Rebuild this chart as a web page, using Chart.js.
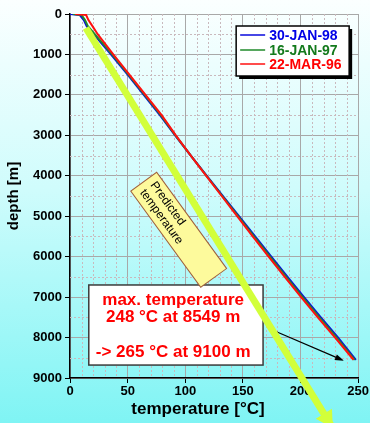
<!DOCTYPE html>
<html><head><meta charset="utf-8">
<script src="https://cdn.jsdelivr.net/npm/chart.js@4"></script>
<style>html,body{margin:0;padding:0;width:370px;height:423px;overflow:hidden;background:#fff}
canvas{display:block}</style>
</head><body>
<canvas id="c" width="370" height="423"></canvas>
<script>
// ---------- data ----------
const depth_m = [0, 25, 150, 300, 500, 1000, 1500, 2000, 2500, 3000, 3500, 4000, 4500, 5000, 5500, 6000, 6500, 7000, 7500, 8000, 8549];
const temp_30JAN98 = [0, 8.5, 12, 14.5, 20.5, 35.5, 50, 64, 78, 91.2, 104.8, 118.7, 132.7, 146.6, 160.6, 174.6, 188.7, 203, 217.6, 232.6, 248];
const temp_16JAN97 = [2.5, 10, 13, 15.5, 21.5, 36.5, 50.8, 64.8, 78.8, 91.5, 104.8, 118.4, 132.1, 145.8, 159.6, 173.5, 187.5, 201.8, 216.3, 231.3, 247];
const temp_22MAR96 = [4.5, 14, 16, 19.5, 24, 37.5, 51.5, 65.5, 79.5, 91.8, 104.8, 118.2, 131.6, 145, 158.5, 172.3, 186.3, 200.5, 215, 230, 246];
const seriesLabels = ['30-JAN-98', '16-JAN-97', '22-MAR-96'];
const predicted_T = [13.8, 228];
const predicted_depth = [346, 10240];
const xTicks = [0, 50, 100, 150, 200, 250];
const yTicks = [0, 1000, 2000, 3000, 4000, 5000, 6000, 7000, 8000, 9000];
const noteLines = ['max. temperature', '248 °C at 8549 m', '', '-> 265 °C at 9100 m'];
const predictedLabel = ['Predicted', 'temperature'];

const colors = ['#0a0adc', '#1f8a2a', '#ff1010'];
const textColors = ['#0000e6', '#137a1c', '#ff0000'];
const FONT = "'Liberation Sans', Arial, sans-serif";

function pts(t, d) { return t.map((v, i) => ({ x: v, y: d[i] })); }

const bgPlugin = {
  id: 'bg',
  beforeDraw(chart) {
    const ctx = chart.ctx;
    const g = ctx.createLinearGradient(0, 0, 0, chart.height);
    g.addColorStop(0, '#fbffff');
    g.addColorStop(0.45, '#cffcfc');
    g.addColorStop(1, '#7ff4f4');
    ctx.save(); ctx.fillStyle = g; ctx.fillRect(0, 0, chart.width, chart.height); ctx.restore();
  }
};

function arrow(ctx, x1, y1, x2, y2, len, wid, color, lw) {
  const a = Math.atan2(y2 - y1, x2 - x1);
  ctx.save();
  ctx.strokeStyle = color; ctx.fillStyle = color; ctx.lineWidth = lw;
  ctx.beginPath(); ctx.moveTo(x1, y1);
  ctx.lineTo(x2 - Math.cos(a) * len * 0.8, y2 - Math.sin(a) * len * 0.8); ctx.stroke();
  ctx.beginPath();
  ctx.moveTo(x2, y2);
  ctx.lineTo(x2 - Math.cos(a) * len + Math.sin(a) * wid / 2, y2 - Math.sin(a) * len - Math.cos(a) * wid / 2);
  ctx.lineTo(x2 - Math.cos(a) * len - Math.sin(a) * wid / 2, y2 - Math.sin(a) * len + Math.cos(a) * wid / 2);
  ctx.closePath(); ctx.fill();
  ctx.restore();
}

const decoPlugin = {
  id: 'deco',
  beforeDatasetsDraw(chart) {
    const { ctx, chartArea: ca } = chart;
    const xs = chart.scales.x, ys = chart.scales.y;
    // minor grid
    ctx.save();
    ctx.strokeStyle = '#c9b9bd'; ctx.lineWidth = 1; ctx.setLineDash([2, 2]);
    for (let t = 10; t < 250; t += 10) {
      if (t % 50 === 0) continue;
      const px = Math.round(xs.getPixelForValue(t)) + 0.5;
      ctx.beginPath(); ctx.moveTo(px, ca.top); ctx.lineTo(px, ca.bottom); ctx.stroke();
    }
    for (let d = 500; d < 9000; d += 1000) {
      const py = Math.round(ys.getPixelForValue(d)) + 0.5;
      ctx.beginPath(); ctx.moveTo(ca.left, py); ctx.lineTo(ca.right, py); ctx.stroke();
    }
    ctx.restore();
    // note box
    const bx1 = xs.getPixelForValue(16.3), by1 = ys.getPixelForValue(6700);
    const bx2 = xs.getPixelForValue(167.5), by2 = ys.getPixelForValue(8680);
    ctx.save();
    ctx.fillStyle = '#ffffff'; ctx.strokeStyle = '#3a3a3a'; ctx.lineWidth = 1.5;
    ctx.fillRect(bx1, by1, bx2 - bx1, by2 - by1);
    ctx.strokeRect(bx1, by1, bx2 - bx1, by2 - by1);
    ctx.fillStyle = '#ff0000'; ctx.font = 'bold 17px ' + FONT;
    ctx.textAlign = 'center'; ctx.textBaseline = 'middle';
    const cx = xs.getPixelForValue(89.5);
    const lineY = [by1 + 15, by1 + 32, by1 + 49, by1 + 67];
    noteLines.forEach((s, i) => { if (s) ctx.fillText(s, cx, lineY[i]); });
    ctx.restore();
    // black arrow
    arrow(ctx, xs.getPixelForValue(177.6), ys.getPixelForValue(7839),
      xs.getPixelForValue(237.7), ys.getPixelForValue(8573), 9, 6, '#000', 1.2);
  },
  afterDatasetsDraw(chart) {
    const { ctx, chartArea: ca } = chart;
    const xs = chart.scales.x, ys = chart.scales.y;
    // predicted arrowhead
    const x1 = xs.getPixelForValue(predicted_T[0]), y1 = ys.getPixelForValue(predicted_depth[0]);
    const x2 = xs.getPixelForValue(predicted_T[1]), y2 = ys.getPixelForValue(predicted_depth[1]);
    const a = Math.atan2(y2 - y1, x2 - x1);
    const len = 17, wid = 19;
    ctx.save();
    ctx.fillStyle = '#d2ff3a';
    ctx.beginPath();
    ctx.moveTo(x2, y2);
    ctx.lineTo(x2 - Math.cos(a) * len + Math.sin(a) * wid / 2, y2 - Math.sin(a) * len - Math.cos(a) * wid / 2);
    ctx.lineTo(x2 - Math.cos(a) * len - Math.sin(a) * wid / 2, y2 - Math.sin(a) * len + Math.cos(a) * wid / 2);
    ctx.closePath(); ctx.fill();
    ctx.restore();
    // predicted label (rotated box)
    const lx = xs.getPixelForValue(94.3), ly = ys.getPixelForValue(5335);
    ctx.save();
    ctx.translate(lx, ly); ctx.rotate(54 * Math.PI / 180);
    ctx.fillStyle = '#fdfa9c'; ctx.strokeStyle = '#a0603a'; ctx.lineWidth = 1;
    ctx.fillRect(-59.5, -16, 119, 32); ctx.strokeRect(-59.5, -16, 119, 32);
    ctx.fillStyle = '#000'; ctx.font = '12px ' + FONT;
    ctx.textAlign = 'left'; ctx.textBaseline = 'middle';
    ctx.fillText(predictedLabel[0], -53, -6.5);
    ctx.fillText(predictedLabel[1], -53, 6.5);
    ctx.restore();
    // legend
    const L = ca.right - 122, T = ca.top + 12, W = 113, H = 50;
    ctx.save();
    ctx.fillStyle = '#000'; ctx.fillRect(L + 3, T + 3, W, H);
    ctx.fillStyle = '#fff'; ctx.fillRect(L, T, W, H);
    ctx.strokeStyle = '#000'; ctx.lineWidth = 1.5; ctx.strokeRect(L, T, W, H);
    ctx.font = 'bold 14px ' + FONT; ctx.textBaseline = 'middle'; ctx.textAlign = 'left';
    const rows = [T + 9, T + 24, T + 38];
    chart.data.datasets.slice(0, 3).forEach((ds, i) => {
      ctx.strokeStyle = ds.borderColor; ctx.lineWidth = 1.5;
      ctx.beginPath(); ctx.moveTo(L + 4, rows[i]); ctx.lineTo(L + 29, rows[i]); ctx.stroke();
      ctx.fillStyle = textColors[i];
      ctx.fillText(ds.label, L + 33, rows[i] + 1);
    });
    ctx.restore();
    // x-axis title
    ctx.save();
    ctx.fillStyle = '#000'; ctx.font = 'bold 17px ' + FONT;
    ctx.textAlign = 'center'; ctx.textBaseline = 'middle';
    ctx.fillText('temperature [°C]', 198, 409);
    ctx.restore();
  }
};

new Chart(document.getElementById('c'), {
  type: 'line',
  data: {
    datasets: [
      { label: seriesLabels[0], data: pts(temp_30JAN98, depth_m), borderColor: colors[0], borderWidth: 2, pointRadius: 0, order: 3 },
      { label: seriesLabels[1], data: pts(temp_16JAN97, depth_m), borderColor: colors[1], borderWidth: 2, pointRadius: 0, order: 2 },
      { label: seriesLabels[2], data: pts(temp_22MAR96, depth_m), borderColor: colors[2], borderWidth: 2, pointRadius: 0, order: 1 },
      { label: 'Predicted temperature', data: pts(predicted_T, predicted_depth), borderColor: '#d2ff3a', borderWidth: 7, pointRadius: 0, clip: false, borderCapStyle: 'butt', order: 0 }
    ]
  },
  options: {
    responsive: false, animation: false, devicePixelRatio: 1,
    layout: { padding: { top: 14, right: 9, left: 0, bottom: 0 } },
    plugins: { legend: { display: false }, tooltip: { enabled: false } },
    scales: {
      x: {
        type: 'linear', position: 'bottom', min: 0, max: 250,
        afterBuildTicks: s => { s.ticks = xTicks.map(v => ({ value: v })); },
        afterFit: s => { s.height = 45; },
        ticks: { color: '#000', font: { family: FONT, size: 13, weight: 'bold' }, padding: 1, maxRotation: 0, callback: v => String(v) },
        grid: { color: '#a8a8a8', lineWidth: 1, tickColor: '#000', tickLength: 5 },
        border: { color: '#000', width: 1.5 }
      },
      y: {
        type: 'linear', position: 'left', min: 0, max: 9000, reverse: true,
        afterBuildTicks: s => { s.ticks = yTicks.map(v => ({ value: v })); },
        afterFit: s => { s.width = 70; },
        ticks: { color: '#000', font: { family: FONT, size: 13, weight: 'bold' }, padding: 3, callback: v => String(v) },
        grid: { color: '#a8a8a8', lineWidth: 1, tickColor: '#000', tickLength: 5 },
        border: { color: '#000', width: 1.5 },
        title: { display: true, text: 'depth [m]', color: '#000', font: { family: FONT, size: 15, weight: 'bold' }, padding: { top: 5, bottom: 0 } }
      }
    }
  },
  plugins: [bgPlugin, decoPlugin]
});
</script>
</body></html>
